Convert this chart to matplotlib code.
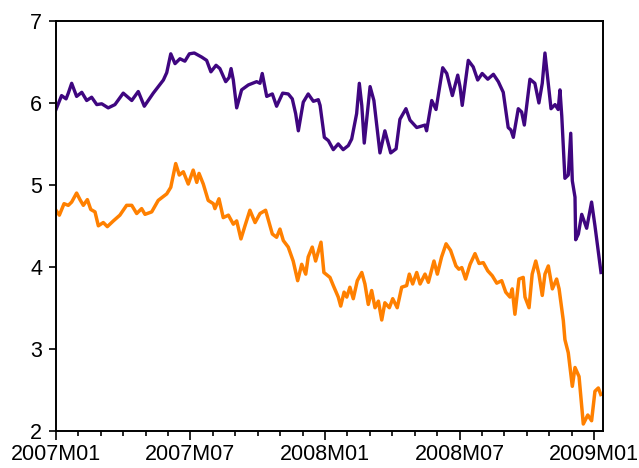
import numpy as np
import matplotlib.pyplot as plt

# time in months since 2007M01
t_morado = [0.00, 0.25, 0.45, 0.55, 0.70, 0.92, 1.15, 1.37, 1.59, 1.82, 2.04, 2.33, 2.63, 3.00,
            3.38, 3.67, 3.94, 4.34, 4.79, 4.94, 5.12, 5.31, 5.53, 5.75, 5.95, 6.17, 6.50, 6.72,
            6.91, 7.14, 7.31, 7.57, 7.72, 7.81, 7.91, 8.06, 8.28, 8.58, 8.95, 9.10, 9.20, 9.40,
            9.65, 9.84, 10.11, 10.36, 10.54, 10.69, 10.81, 11.03, 11.25, 11.48, 11.70, 11.78,
            11.97, 12.15, 12.37, 12.59, 12.81, 13.04, 13.19, 13.41, 13.53, 13.64, 13.75, 14.01,
            14.18, 14.45, 14.67, 14.93, 15.17, 15.34, 15.61, 15.79, 16.09, 16.46, 16.53, 16.76,
            16.95, 17.25, 17.43, 17.68, 17.92, 18.02, 18.12, 18.39, 18.61, 18.81, 19.01, 19.26,
            19.51, 19.73, 19.95, 20.17, 20.29, 20.40, 20.62, 20.77, 20.89, 21.14, 21.36, 21.54,
            21.69, 21.81, 22.08, 22.26, 22.40, 22.48, 22.56, 22.70, 22.85, 22.96, 23.03, 23.15,
            23.18, 23.30, 23.45, 23.67, 23.89, 24.04, 24.31]
v_morado = [5.92, 6.09, 6.05, 6.12, 6.24, 6.08, 6.13, 6.03, 6.07, 5.98, 5.99, 5.94, 5.98, 6.12,
            6.03, 6.14, 5.96, 6.12, 6.28, 6.37, 6.60, 6.48, 6.54, 6.51, 6.60, 6.61, 6.56, 6.52,
            6.38, 6.46, 6.42, 6.26, 6.31, 6.42, 6.28, 5.94, 6.16, 6.22, 6.26, 6.24, 6.36, 6.08,
            6.11, 5.96, 6.12, 6.11, 6.05, 5.87, 5.66, 6.01, 6.11, 6.02, 6.04, 5.97,
            5.58, 5.54, 5.43, 5.50, 5.43, 5.48, 5.56, 5.87, 6.24, 5.97, 5.51, 6.20,
            6.03, 5.39, 5.66, 5.39, 5.44, 5.80, 5.93, 5.79, 5.70, 5.73, 5.66, 6.03,
            5.92, 6.43, 6.36, 6.09, 6.34, 6.20, 5.97, 6.52, 6.44, 6.28, 6.36, 6.29,
            6.35, 6.26, 6.13, 5.70, 5.67, 5.58, 5.93, 5.89, 5.73, 6.29, 6.24, 6.00,
            6.24, 6.61, 5.93, 5.98, 5.92, 6.16, 5.84, 5.08, 5.12, 5.63, 5.05, 4.85,
            4.33, 4.40, 4.64, 4.47, 4.79, 4.50, 3.93]

t_naranja = [0.00, 0.15, 0.36, 0.55, 0.70, 0.92, 1.07, 1.22, 1.40, 1.55, 1.74, 1.89, 2.11, 2.29,
             2.56, 2.85, 3.15, 3.38, 3.60, 3.82, 3.97, 4.27, 4.56, 4.94, 5.12, 5.34, 5.50, 5.68,
             5.90, 6.12, 6.28, 6.38, 6.57, 6.79, 7.02, 7.09, 7.27, 7.46, 7.69, 7.91, 8.06, 8.25,
             8.43, 8.65, 8.88, 9.10, 9.35, 9.65, 9.84, 9.99, 10.14, 10.36, 10.58, 10.78, 10.96,
             11.14, 11.25, 11.43, 11.58, 11.82, 11.95, 12.22, 12.37, 12.59, 12.70, 12.85, 12.97,
             13.11, 13.26, 13.44, 13.64, 13.78, 13.93, 14.08, 14.23, 14.38, 14.53, 14.67, 14.87,
             15.02, 15.22, 15.42, 15.64, 15.76, 15.91, 16.09, 16.24, 16.46, 16.61, 16.86, 17.01,
             17.20, 17.40, 17.60, 17.84, 17.97, 18.10, 18.27, 18.47, 18.69, 18.87, 19.06, 19.26,
             19.46, 19.66, 19.88, 20.06, 20.25, 20.35, 20.47, 20.65, 20.84, 20.92, 21.10, 21.24,
             21.40, 21.54, 21.69, 21.81, 21.96, 22.14, 22.33, 22.44, 22.63, 22.70, 22.85, 23.03,
             23.15, 23.33, 23.52, 23.72, 23.89, 24.04, 24.19, 24.30]
v_naranja = [4.69, 4.63, 4.77, 4.75, 4.79, 4.90, 4.82, 4.75, 4.82, 4.70, 4.67, 4.50, 4.54, 4.49,
             4.56, 4.63, 4.75, 4.75, 4.65, 4.71, 4.64, 4.67, 4.81, 4.89, 4.97, 5.26, 5.12, 5.16,
             5.01, 5.18, 5.03, 5.14, 5.01, 4.81, 4.77, 4.71, 4.83, 4.60, 4.63, 4.52, 4.56, 4.34,
             4.50, 4.69, 4.54, 4.65, 4.69, 4.40, 4.36, 4.46, 4.32, 4.24, 4.07, 3.83, 4.03,
             3.91, 4.12, 4.24, 4.07, 4.30, 3.93, 3.87, 3.77, 3.63, 3.52, 3.69, 3.63,
             3.75, 3.61, 3.83, 3.93, 3.79, 3.54, 3.71, 3.50, 3.58, 3.35, 3.56, 3.50,
             3.61, 3.50, 3.75, 3.77, 3.91, 3.79, 3.93, 3.79, 3.91, 3.81, 4.07, 3.91,
             4.12, 4.28, 4.20, 4.01, 3.97, 3.99, 3.85, 4.03, 4.16, 4.04, 4.05, 3.95,
             3.89, 3.80, 3.83, 3.69, 3.63, 3.73, 3.42, 3.85, 3.87, 3.63, 3.50, 3.91,
             4.07, 3.91, 3.65, 3.91, 4.01, 3.73, 3.85, 3.73, 3.34, 3.11, 2.95, 2.54,
             2.77, 2.66, 2.08, 2.19, 2.12, 2.48, 2.52, 2.44]

etiquetas = ['2007M01', '2007M07', '2008M01', '2008M07', '2009M01']

plt.rcParams['font.family'] = ['Liberation Sans', 'DejaVu Sans']

fig = plt.figure(figsize=(6.39, 4.68), dpi=100)
ax = fig.add_axes([0.0876, 0.080, 0.8554, 0.875])

ax.plot(t_morado, v_morado, color='#3f0680', lw=2.4, solid_joinstyle='round')
ax.plot(t_naranja, v_naranja, color='#ff8000', lw=2.5, solid_joinstyle='round')

ax.set_xlim(0, 24.38)
ax.set_ylim(2, 7)
ax.set_xticks(np.arange(0, 25, 6))
ax.set_xticklabels(etiquetas)
ax.set_xticks(np.arange(0, 25, 1), minor=True)
ax.set_yticks([2, 3, 4, 5, 6, 7])

ax.tick_params(axis='x', which='major', length=6.5, width=1.2, labelsize=15.5, pad=3)
ax.tick_params(axis='x', which='minor', length=3.8, width=1.2)
ax.tick_params(axis='y', which='major', length=5, width=1.2, labelsize=15.5, pad=5)
for lado in ['left', 'bottom', 'top', 'right']:
    ax.spines[lado].set_linewidth(1.4)

fig.savefig('out.png', dpi=100)
